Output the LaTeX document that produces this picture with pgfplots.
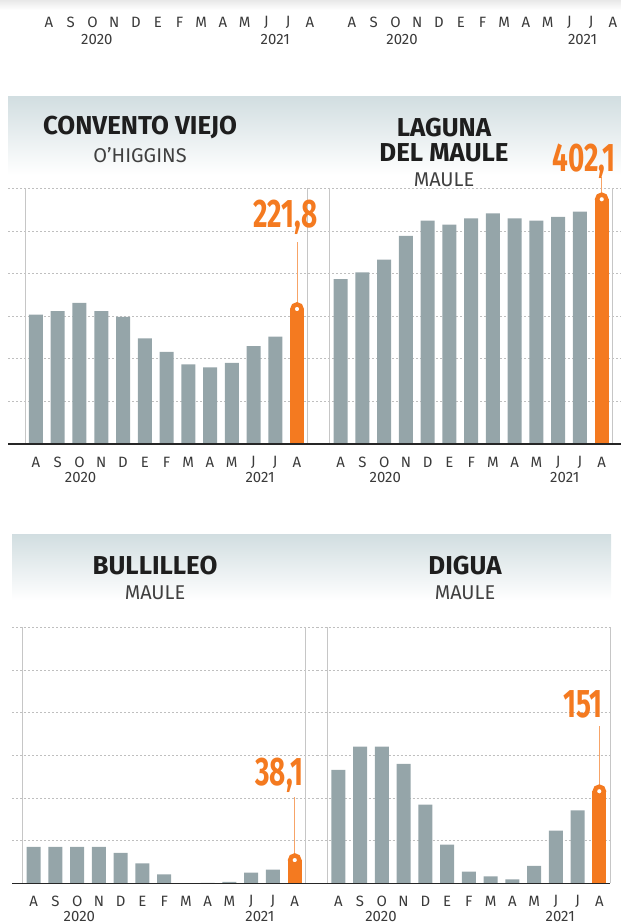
\documentclass[border=0pt]{standalone}
\usepackage{fontspec}
\setmainfont{Fira Sans}
\newfontfamily\numfont[FakeStretch=0.7]{Fira Sans}
\usepackage{pgfplots}
\pgfplotsset{compat=1.18}
\definecolor{barg}{HTML}{95A5A9}
\definecolor{orng}{HTML}{F47A20}
\definecolor{lorng}{HTML}{F7A468}
\definecolor{band}{HTML}{D2DEE1}
\definecolor{txt}{HTML}{1E1E1E}
\definecolor{mon}{HTML}{3A3A3A}
\pgfplotsset{
 monlab/.style={
  xtick={0,...,12},
  xticklabels={A,S,O,N,D,E,F,M,A,M,J,J,A},
  xticklabel style={font=\fontsize{15}{15}\selectfont, text=mon, anchor=center, inner sep=0pt, yshift=-18bp},
  major tick length=0pt,
 },
 panel/.style={
  scale only axis, anchor=south west,
  ymin=0, ymax=420, ytick={70,140,210,280,350,420}, ymajorgrids,
  grid style={gray!50, dash pattern=on 2bp off 2bp, line width=0.6bp},
  axis line style={draw=none},
  yticklabels={},
  monlab,
  clip=false,
 },
 strip/.style={
  scale only axis, anchor=south west, height=10bp,
  ymin=0, ymax=1, ytick=\empty,
  axis line style={draw=none},
  monlab, clip=false,
 },
 gbar/.style={ybar, bar width=14bp, bar shift=0pt, fill=barg, draw=none},
 obar/.style={ybar, bar width=14bp, bar shift=0pt, fill=orng, draw=none},
 omark/.style={only marks, mark=*, mark size=4.6bp, mark options={fill=white, draw=orng, line width=4.4bp}},
}
\newcommand{\yrfont}{\fontsize{15}{15}\selectfont}
\newcommand{\ttlfont}{\bfseries\fontsize{26}{26}\selectfont}
\newcommand{\subfont}{\fontsize{20}{20}\selectfont}
\newcommand{\valfont}{\numfont\bfseries\fontsize{40}{40}\selectfont}
\begin{document}
\begin{tikzpicture}[x=1bp,y=1bp]
\useasboundingbox (0,0) rectangle (621,924);
% top fade strip
\shade[top color=gray!18, bottom color=white] (0,924) rectangle (621,914);
% header bands
\shade[top color=band, bottom color=white] (8,827) rectangle (621,749);
\shade[top color=band, bottom color=white] (12,389) rectangle (611,324);

% titles
\node[font=\ttlfont, text=txt] at (140,796) {CONVENTO VIEJO};
\node[font=\subfont, text=txt!85] at (140,769) {O'HIGGINS};
\node[font=\ttlfont, text=txt] at (444,796) {LAGUNA};
\node[font=\ttlfont, text=txt] at (444,771) {DEL MAULE};
\node[font=\subfont, text=txt!85] at (444,744) {MAULE};
\node[font=\ttlfont, text=txt] at (155,358) {BULLILLEO};
\node[font=\subfont, text=txt!85] at (155,331) {MAULE};
\node[font=\ttlfont, text=txt] at (465,358) {DIGUA};
\node[font=\subfont, text=txt!85] at (465,331) {MAULE};

% top strip (labels of charts above)
\begin{axis}[strip, at={(8bp,920bp)}, width=312.9bp, xmin=-1.885, xmax=12.5]
\node[font=\yrfont, text=mon] at ([yshift=-36bp]axis cs:2.2,0) {2020};
\node[font=\yrfont, text=mon] at ([yshift=-36bp]axis cs:10.4,0) {2021};
\end{axis}
\begin{axis}[strip, at={(320bp,920bp)}, width=301.7bp, xmin=-1.471, xmax=12.4]
\node[font=\yrfont, text=mon] at ([yshift=-36bp]axis cs:2.3,0) {2020};
\node[font=\yrfont, text=mon] at ([yshift=-36bp]axis cs:10.6,0) {2021};
\end{axis}

% Convento Viejo
\begin{axis}[panel, at={(8bp,480bp)}, width=312bp, height=255.6bp, xmin=-1.287, xmax=13.057]
\addplot[gbar] coordinates {(0,212.7) (1,218.2) (2,231.9) (3,218.2) (4,208.9) (5,173.4) (6,151.5) (7,130.7) (8,125.8) (9,133.4) (10,160.8) (11,176.6)};
\addplot[obar] coordinates {(12,221.8)};
\draw[gray!45, line width=0.8bp] (axis cs:-0.5,0) -- (axis cs:-0.5,420);
\draw[gray!45, line width=0.8bp] (axis cs:12.5,0) -- (axis cs:12.5,420);
\draw[black!85, line width=1.2bp] (rel axis cs:0,0) -- (rel axis cs:1,0);
\draw[lorng, line width=0.8bp] (axis cs:12,221.8) -- ([yshift=67bp]axis cs:12,221.8);
\addplot[omark] coordinates {(12,221.8)};
\node[anchor=base east, inner sep=0pt, text=orng, font=\valfont] at ([xshift=20.5bp, yshift=82bp]axis cs:12,221.8) {221,8};
\node[font=\yrfont, text=mon] at ([yshift=-34bp]axis cs:2.05,0) {2020};
\node[font=\yrfont, text=mon] at ([yshift=-34bp]axis cs:10.3,0) {2021};
\end{axis}

% Laguna del Maule
\begin{axis}[panel, at={(320bp,480bp)}, width=301bp, height=255.6bp, xmin=-0.952, xmax=12.887]
\addplot[gbar] coordinates {(0,270.7) (1,282.2) (2,303.0) (3,341.8) (4,367.0) (5,360.4) (6,370.8) (7,379.0) (8,370.8) (9,367.0) (10,373.0) (11,381.7)};
\addplot[obar] coordinates {(12,402.1)};
\draw[gray!45, line width=0.8bp] (axis cs:-0.5,0) -- (axis cs:-0.5,420);
\draw[gray!45, line width=0.8bp] (axis cs:12.5,0) -- (axis cs:12.5,420);
\draw[black!85, line width=1.2bp] (rel axis cs:0,0) -- (rel axis cs:1,0);
\draw[lorng, line width=0.8bp] (axis cs:12,402.1) -- ([yshift=22.6bp]axis cs:12,402.1);
\addplot[omark] coordinates {(12,402.1)};
\node[anchor=base east, inner sep=0pt, text=orng, font=\valfont] at ([xshift=14bp, yshift=27.6bp]axis cs:12,402.1) {402,1};
\node[font=\yrfont, text=mon] at ([yshift=-34bp]axis cs:2.05,0) {2020};
\node[font=\yrfont, text=mon] at ([yshift=-34bp]axis cs:10.3,0) {2021};
\end{axis}

% Bullilleo
\begin{axis}[panel, at={(12bp,40.7bp)}, width=304.5bp, height=256bp, xmin=-0.998, xmax=13.002]
\addplot[gbar] coordinates {(0,59.6) (1,59.6) (2,59.6) (3,59.6) (4,49.8) (5,32.8) (6,14.8) (7,0) (8,0.5) (9,2.2) (10,17.5) (11,22.4)};
\addplot[obar] coordinates {(12,38.1)};
\draw[gray!45, line width=0.8bp] (axis cs:-0.5,0) -- (axis cs:-0.5,420);
\draw[gray!45, line width=0.8bp] (axis cs:12.5,0) -- (axis cs:12.5,420);
\draw[black!85, line width=1.2bp] (rel axis cs:0,0) -- (rel axis cs:1,0);
\draw[lorng, line width=0.8bp] (axis cs:12,38.1) -- ([yshift=63bp]axis cs:12,38.1);
\addplot[omark] coordinates {(12,38.1)};
\node[anchor=base east, inner sep=0pt, text=orng, font=\valfont] at ([xshift=8.5bp, yshift=74.4bp]axis cs:12,38.1) {38,1};
\node[font=\yrfont, text=mon] at ([yshift=-33bp]axis cs:2.1,0) {2020};
\node[font=\yrfont, text=mon] at ([yshift=-33bp]axis cs:10.4,0) {2021};
\end{axis}

% Digua
\begin{axis}[panel, at={(316.5bp,40.7bp)}, width=293.7bp, height=256bp, xmin=-1.002, xmax=12.5]
\addplot[gbar] coordinates {(0,185.9) (1,224.2) (2,224.2) (3,195.8) (4,129.1) (5,63.4) (6,19.1) (7,11.5) (8,6.6) (9,28.4) (10,86.4) (11,119.8)};
\addplot[obar] coordinates {(12,151)};
\draw[gray!45, line width=0.8bp] (axis cs:-0.5,0) -- (axis cs:-0.5,420);
\draw[gray!45, line width=0.8bp] (axis cs:12.5,0) -- (axis cs:12.5,420);
\draw[black!85, line width=1.2bp] (rel axis cs:0,0) -- (rel axis cs:1,0);
\draw[lorng, line width=0.8bp] (axis cs:12,151) -- ([yshift=65bp]axis cs:12,151);
\addplot[omark] coordinates {(12,151)};
\node[anchor=base east, inner sep=0pt, text=orng, font=\valfont] at ([xshift=3.3bp, yshift=74bp]axis cs:12,151) {151};
\node[font=\yrfont, text=mon] at ([yshift=-33bp]axis cs:1.96,0) {2020};
\node[font=\yrfont, text=mon] at ([yshift=-33bp]axis cs:10.2,0) {2021};
\end{axis}
\end{tikzpicture}
\end{document}
